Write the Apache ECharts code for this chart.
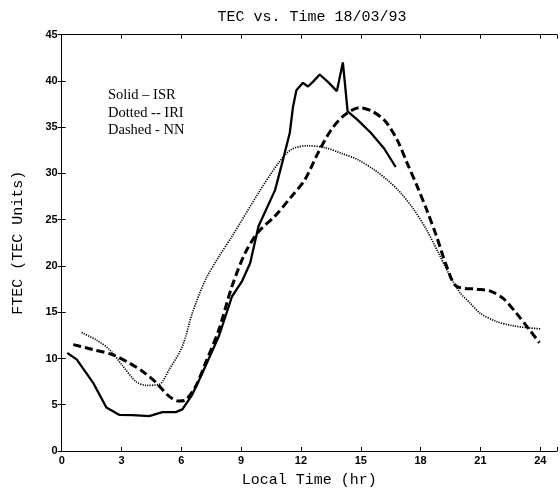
<!DOCTYPE html>
<html>
<head>
<meta charset="utf-8">
<script src="https://cdn.jsdelivr.net/npm/echarts@6/dist/echarts.min.js"></script>
<style>html,body{margin:0;padding:0;background:#fff;}#c{width:560px;height:493px;}</style>
</head>
<body>
<div id="c"></div>
<script>
const titleText = 'TEC vs. Time 18/03/93';
const xName = 'Local Time (hr)';
const yName = 'FTEC (TEC Units)';
const legendLines = ['Solid \u2013 ISR', 'Dotted -- IRI', 'Dashed - NN'];

// Solid - ISR
const isrTime = [0.28,0.75,1.57,2.24,2.9,3.56,4.39,5.05,5.72,6.05,6.55,7.05,7.88,8.54,9.03,9.45,9.87,10.7,11.1,11.44,11.6,11.77,12.1,12.35,12.6,12.94,13.35,13.8,14.1,14.34,14.84,15.5,16.17,16.75];
const isrTec  = [10.6,9.9,7.4,4.7,3.9,3.87,3.76,4.2,4.2,4.5,6.1,8.4,12.4,16.7,18.3,20.3,24.3,28.2,31.5,34.4,37.2,39.0,39.8,39.4,39.9,40.7,39.9,38.9,42.0,36.7,35.8,34.4,32.7,30.7];

// Dotted - IRI
const iriTime = [1.0,1.74,2.4,3.06,3.73,4.23,4.89,5.39,6.05,6.55,7.21,7.88,8.54,9.87,10.86,11.52,12.35,13.18,14.0,14.84,15.67,16.33,17.0,17.66,18.3,18.9,19.48,19.98,20.48,20.98,21.8,22.6,23.46,24.05];
const iriTec  = [12.8,12.0,10.96,9.2,7.5,7.1,7.2,8.8,11.3,14.9,18.5,21.0,23.2,27.9,31.1,32.6,33.0,32.8,32.2,31.5,30.4,29.3,27.9,26.1,23.9,21.4,18.9,17.1,16.0,14.9,14.0,13.55,13.3,13.2];

// Dashed - NN
const nnTime = [0.58,1.57,2.57,3.4,4.06,4.73,5.39,5.89,6.2,6.72,7.21,7.88,8.54,9.2,9.87,10.7,11.52,12.19,12.85,13.51,14.18,14.93,15.59,16.25,16.83,17.33,17.83,18.3,18.8,19.3,19.8,20.8,21.47,22.14,22.8,23.46,23.96];
const nnTec  = [11.5,10.96,10.4,9.5,8.6,7.4,5.9,5.4,5.5,7.0,9.5,13.1,17.8,21.4,23.7,25.4,27.5,29.3,32.2,34.7,36.3,37.1,36.7,35.6,33.6,31.1,28.6,26.1,23.2,20.0,17.8,17.5,17.3,16.5,14.9,13.1,11.7];

const xMin = 0, xMax = 24.84, xInterval = 3;
const yMin = 0, yMax = 45, yInterval = 5;

function pairs(xs, ys){ return xs.map((x,i)=>[x, ys[i]]); }

const chart = echarts.init(document.getElementById('c'), null, {renderer:'canvas'});
const tickFont = {fontFamily:'Liberation Sans', fontWeight:'bold', fontSize:11, color:'#000'};
const tickStyle = {show:true, inside:true, length:4, lineStyle:{color:'#000', width:1}};
const lineOn = {show:true, onZero:false, lineStyle:{color:'#000', width:1}};
chart.setOption({
  animation:false,
  backgroundColor:'#fff',
  title:{text:titleText, left:307, top:5, textAlign:'center',
    textStyle:{fontFamily:'Liberation Mono', fontSize:15, fontWeight:'normal', color:'#000'}},
  grid:{left:61.7, right:-1, top:34.7, bottom:41.5, containLabel:false},
  xAxis:[
    {type:'value', min:xMin, max:xMax, interval:xInterval, position:'bottom',
      name:xName, nameLocation:'middle', nameGap:22,
      nameTextStyle:{fontFamily:'Liberation Mono', fontSize:15, color:'#000'},
      axisLine:lineOn, axisTick:tickStyle, splitLine:{show:false},
      axisLabel:Object.assign({margin:4, formatter:v=> (Math.abs(v/3-Math.round(v/3))<1e-6 ? String(v) : '')}, tickFont)
    },
    {type:'value', min:xMin, max:xMax, interval:xInterval, position:'top',
      axisLine:lineOn, axisTick:tickStyle, splitLine:{show:false}, axisLabel:{show:false}}
  ],
  yAxis:[
    {type:'value', min:yMin, max:yMax, interval:yInterval, position:'left',
      name:yName, nameLocation:'middle', nameGap:36, nameRotate:90,
      nameTextStyle:{fontFamily:'Liberation Mono', fontSize:15, color:'#000'},
      axisLine:lineOn, axisTick:tickStyle, splitLine:{show:false},
      axisLabel:Object.assign({margin:4}, tickFont)
    },
    {type:'value', min:yMin, max:yMax, interval:yInterval, position:'right',
      axisLine:{show:false}, axisTick:tickStyle, splitLine:{show:false}, axisLabel:{show:false}}
  ],
  graphic:legendLines.map((t,i)=>({type:'text', left:108, top:88+i*17.3,
    style:{text:t, font:'14.5px "Liberation Serif"', fill:'#000'}})),
  series:[
    {type:'line', name:'ISR', data:pairs(isrTime,isrTec), showSymbol:false, smooth:false,
      lineStyle:{color:'#000', width:2.3, type:'solid'}},
    {type:'line', name:'IRI', data:pairs(iriTime,iriTec), showSymbol:false, smooth:0.3,
      lineStyle:{color:'#000', width:1.7, type:[1.2,1.2]}},
    {type:'line', name:'NN', data:pairs(nnTime,nnTec), showSymbol:false, smooth:0.3,
      lineStyle:{color:'#000', width:3, type:[8,4]}}
  ]
});
</script>
</body>
</html>
